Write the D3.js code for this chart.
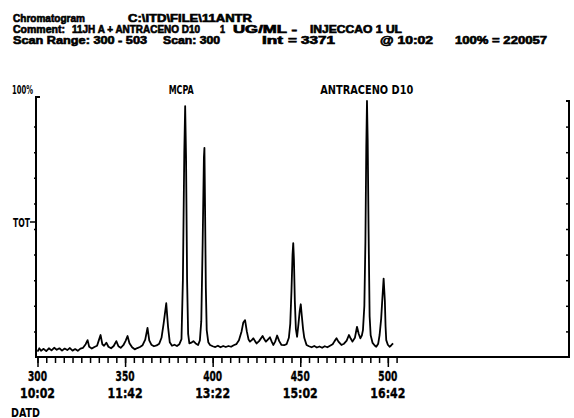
<!DOCTYPE html>
<html>
<head>
<meta charset="utf-8">
<script src="https://cdn.jsdelivr.net/npm/d3@7"></script>
<style>
  body { margin: 0; background: #fff; }
  text { font-family: "DejaVu Sans", sans-serif; font-weight: bold; fill: #000; }
  text.header { font-family: "Liberation Sans", Arial, sans-serif; stroke: #000; stroke-width: 0.6px; }
</style>
</head>
<body>
<script>
// 資料 (讀自圖片)
const scans = [
  300, 301, 302, 303.5, 305, 306.5, 308, 309.5, 311, 312.5, 314, 315.5, 317, 318.5, 320, 321.5, 323, 324.5,
  326, 327.5, 328.6, 329.5, 331, 332.5, 334, 335, 336, 337, 338, 339.3, 340.5, 342, 343.5, 345, 346.2,
  347.5, 349, 350.3, 351.4, 352.5, 354, 355.5, 357, 358.5, 360, 361.5, 362.8, 363.8, 365, 366.5, 368,
  369.5, 370.8, 372, 373.5, 374.5, 375.5, 376.8, 378.2, 379.6, 381, 382.2, 383, 383.8, 384.3, 384.8,
  385.4, 386, 386.7, 387.8, 389, 390.3, 391.7, 392.7, 393.5, 394.3, 395, 395.3, 395.7, 396.1, 396.6,
  397.5, 398.5, 400, 401.5, 403, 404.5, 406, 407.5, 409, 410.5, 412, 413.5, 415, 416.5, 417.5, 418.5,
  419.5, 420.5, 421.3, 422.3, 423.2, 424.2, 425.1, 426.5, 428.5, 429.5, 430.4, 431.5, 432.7, 433.7,
  434.6, 435.7, 436.8, 438, 439.3, 440.8, 442.2, 443.5, 444.3, 445, 445.6, 446, 446.4, 446.9, 447.5,
  448.2, 449, 449.7, 450.3, 450.9, 451.6, 452.3, 453.6, 455, 456.5, 458, 459.5, 461, 462.5, 464, 465.5,
  467, 468.5, 469.6, 470.7, 471.8, 473.5, 475, 476.5, 477.8, 478.8, 479.8, 481.2, 482.4, 483.4, 484.3,
  485.2, 485.8, 486.6, 487.2, 487.7, 488.1, 488.5, 489, 489.6, 490.2, 491.3, 492.5, 493.4, 494.5, 495.3,
  496.2, 496.8, 497.6, 498.3, 498.7, 499.1, 500, 501, 502, 503
];
const tic = [
  2.1, 3.4, 2.4, 3.2, 2.3, 3.4, 2.6, 3.6, 2.8, 3.4, 2.5, 3.3, 2.7, 3.5, 2.5, 3.1, 2.4, 3.3,
  3.6, 5.0, 6.6, 4.0, 3.3, 3.9, 4.4, 6.5, 8.6, 5.0, 4.4, 5.6, 4.0, 3.4, 4.3, 6.2, 4.2,
  3.6, 4.6, 6.3, 8.2, 5.4, 3.8, 3.0, 3.5, 3.9, 4.6, 6.8, 11.4, 6.5, 4.8, 4.2, 4.5,
  5.2, 7.5, 13, 21, 12, 5.8, 4.4, 4.8, 4.3, 5.0, 7.0, 30, 80, 98, 78,
  30, 9, 5.3, 5.6, 6.2, 5.3, 4.7, 6.5, 14, 45, 78, 81.7, 55, 27, 10.5,
  5.8, 4.7, 4.2, 3.9, 4.4, 3.8, 4.3, 3.9, 4.3, 4.0, 4.6, 5.0, 6.5, 10, 13.5, 14.4,
  10, 6.8, 6.0, 6.6, 7.3, 6.2, 5.3, 6.2, 8.2, 6.9, 6.0, 6.8, 7.7, 6.0,
  4.7, 6.0, 8.4, 6.2, 4.7, 4.6, 5.0, 7.5, 13, 26, 40, 44.5, 38, 22, 11,
  7.9, 13, 18, 20.6, 16, 11, 7.5, 4.7, 4.2, 3.8, 4.3, 3.7, 4.1, 3.6, 4.2, 3.8,
  4.4, 5.0, 6.2, 7.3, 6.0, 4.7, 5.2, 6.4, 8.6, 7.2, 6.0, 7.5, 11.8, 9.0, 7.3,
  8.5, 10.5, 20, 45, 82, 100, 85, 50, 16, 8.5, 5.5, 4.5, 4.0, 5.2, 8.6,
  15, 22, 30.6, 22, 12, 6.6, 4.8, 4.0, 4.6, 5.3
];
const tickScans = [300, 350, 400, 450, 500];
const tickTimes = ["10:02", "11:42", "13:22", "15:02", "16:42"];
const peakNames = ["MCPA", "ANTRACENO D10"];
const peakScans = [382, 488];

// 標題文字 [文字, 左, 右, 基線]
const headerLines = [
  ["Chromatogram", 13, 85, 21.7],
  ["C:\\ITD\\FILE\\11ANTR", 128, 252, 21.7],
  ["Comment:", 13, 65, 33.1],
  ["11JH A + ANTRACENO D10", 72, 200, 33.1],
  ["1", 220, 225, 33.1],
  ["UG/ML -", 233, 297, 33.1],
  ["INJECCAO 1 UL", 310, 402, 33.1],
  ["Scan Range: 300 - 503", 13, 147, 44.4],
  ["Scan: 300", 163, 220, 44.4],
  ["Int", 262, 283, 44.4],
  ["= 3371", 288, 335, 44.4],
  ["@ 10:02", 380, 433, 44.4],
  ["100% = 220057", 455, 547, 44.4]
];

const data = scans.map((s, i) => ({ scan: s, tic: tic[i] }));

// SVG 尺寸
const width = 574;
const height = 418;
const plotLeft = 36, plotRight = 569, plotTop = 97, plotBottom = 357;

const svg = d3.select("body")
  .append("svg")
  .attr("width", width)
  .attr("height", height);

const x = d3.scaleLinear().domain([300, 604]).range([37.5, 570]);
const y = d3.scaleLinear().domain([0, 100]).range([plotBottom, 101]);

// 標題
svg.selectAll("text.header")
  .data(headerLines)
  .enter()
  .append("text")
  .attr("class", "header")
  .attr("x", d => d[1])
  .attr("y", d => d[3])
  .attr("textLength", d => d[2] - d[1])
  .attr("lengthAdjust", "spacingAndGlyphs")
  .style("font-size", "10px")
  .text(d => d[0]);

// 外框
svg.append("path")
  .attr("d", `M${plotLeft + 4},${plotTop} H${plotLeft} V${plotBottom} H${plotRight} V101 H${plotRight - 3}`)
  .attr("fill", "none")
  .attr("stroke", "#000")
  .attr("stroke-width", 2);

// 左右刻度
svg.append("g")
  .attr("transform", `translate(${plotLeft},0)`)
  .call(d3.axisLeft(y).tickValues(d3.range(10, 100, 10)).tickSize(2).tickFormat(""))
  .call(g => g.select(".domain").remove())
  .selectAll("line").attr("stroke-width", 1.5);
svg.append("g")
  .attr("transform", `translate(${plotRight},0)`)
  .call(d3.axisLeft(y).tickValues(d3.range(10, 100, 10)).tickSize(3).tickFormat(""))
  .call(g => g.select(".domain").remove())
  .selectAll("line").attr("stroke-width", 1.5);

// 底部刻度
svg.append("g")
  .attr("transform", `translate(0,${plotBottom})`)
  .call(d3.axisBottom(x).tickValues(d3.range(300, 506, 5)).tickSize(6).tickFormat(""))
  .call(g => g.select(".domain").remove())
  .selectAll("line").attr("stroke-width", 1.5);
svg.append("g")
  .attr("transform", `translate(0,${plotBottom})`)
  .call(d3.axisBottom(x).tickValues(tickScans).tickSize(10).tickFormat(""))
  .call(g => g.select(".domain").remove())
  .selectAll("line").attr("stroke-width", 1.5);

// 刻度標籤 (兩行)
const labels = svg.selectAll("g.xlab")
  .data(tickScans)
  .enter()
  .append("g")
  .attr("transform", d => `translate(${x(d)},0)`);
labels.append("text")
  .attr("y", 380.5)
  .attr("text-anchor", "middle")
  .attr("textLength", 19)
  .attr("lengthAdjust", "spacingAndGlyphs")
  .style("font-size", "14px")
  .style("stroke", "#000").style("stroke-width", "0.4px")
  .text(d => d);
labels.append("text")
  .attr("y", 397.5)
  .attr("text-anchor", "middle")
  .attr("textLength", 35)
  .attr("lengthAdjust", "spacingAndGlyphs")
  .style("font-size", "14px")
  .style("stroke", "#000").style("stroke-width", "0.4px")
  .text((d, i) => tickTimes[i]);

svg.append("text")
  .attr("x", 11).attr("y", 416.5)
  .attr("textLength", 29)
  .attr("lengthAdjust", "spacingAndGlyphs")
  .style("font-size", "13px")
  .text("DATD");

// Y 軸標籤
svg.append("text")
  .attr("x", 12).attr("y", 93.5)
  .attr("textLength", 21)
  .attr("lengthAdjust", "spacingAndGlyphs")
  .style("font-size", "12px")
  .text("100%");
svg.append("text")
  .attr("x", 13).attr("y", 226.5)
  .attr("textLength", 17)
  .attr("lengthAdjust", "spacingAndGlyphs")
  .style("font-size", "13px")
  .text("TOT");
svg.append("line")
  .attr("x1", 30).attr("x2", plotLeft)
  .attr("y1", 222).attr("y2", 222)
  .attr("stroke", "#000").attr("stroke-width", 1.5);

// 峰標籤
svg.selectAll("text.peak")
  .data(peakNames)
  .enter()
  .append("text")
  .attr("class", "peak")
  .attr("x", (d, i) => x(peakScans[i]))
  .attr("y", 94)
  .attr("text-anchor", "middle")
  .attr("textLength", d => d.length > 5 ? 93 : 25)
  .attr("lengthAdjust", "spacingAndGlyphs")
  .style("font-size", "13px")
  .text(d => d);

// 層析圖曲線
const line = d3.line()
  .x(d => x(d.scan))
  .y(d => y(d.tic));
svg.append("path")
  .datum(data)
  .attr("d", line)
  .attr("fill", "none")
  .attr("stroke", "#000")
  .attr("stroke-width", 1.8)
  .attr("stroke-linejoin", "round");
</script>
</body>
</html>
